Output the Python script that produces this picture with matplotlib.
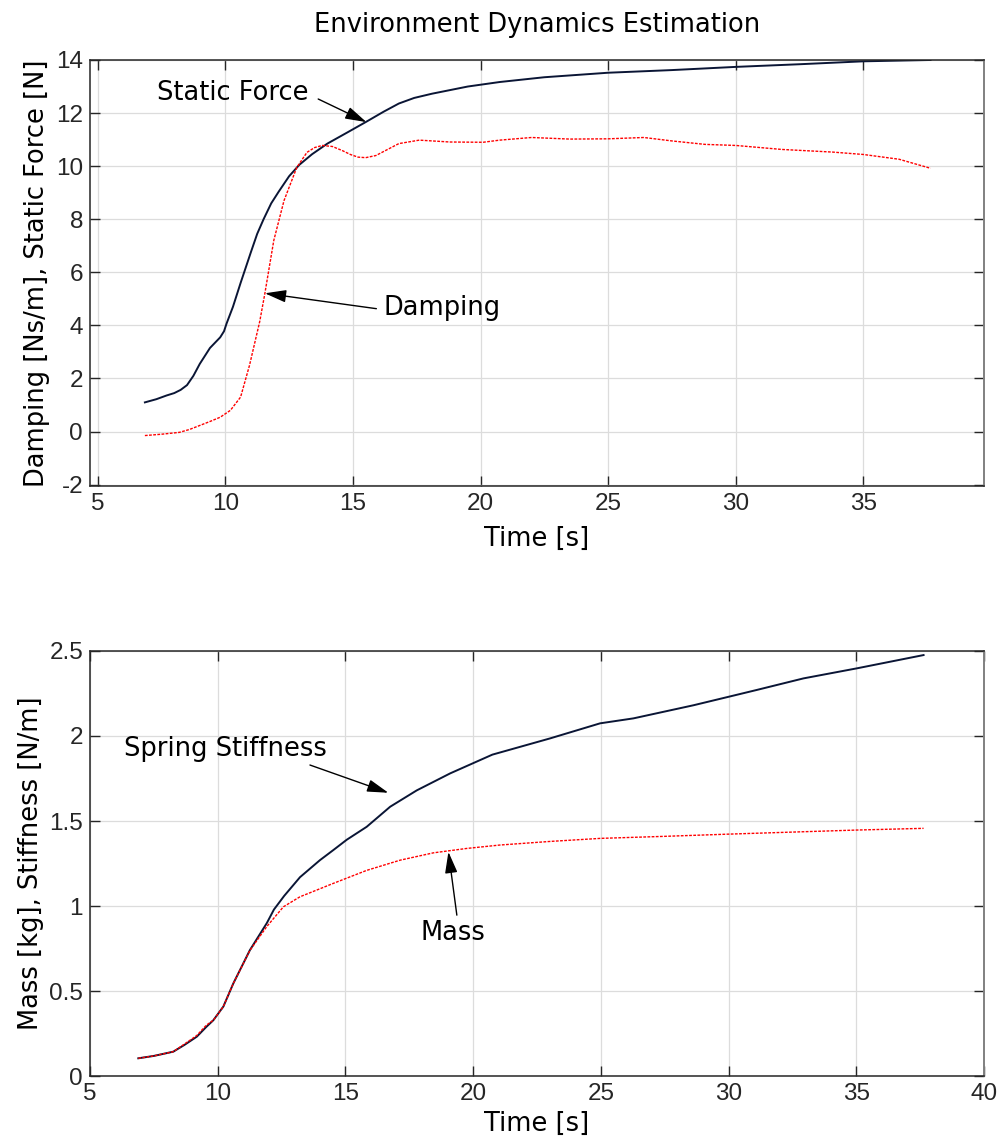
import numpy as np
import matplotlib.pyplot as plt

# ── data ────────────────────────────────────────────────
t_force = [6.85, 7.3, 7.7, 8.0, 8.25, 8.5, 8.75, 9.0, 9.4, 9.8, 9.95, 10.05, 10.3,
           10.6, 11.0, 11.25, 11.5, 11.8, 12.1, 12.5, 12.9, 13.4, 14.0, 14.8, 15.5,
           16.2, 16.8, 17.4, 18.1, 19.5, 20.75, 22.5, 25.0, 27.5, 30.0, 32.5, 35.0,
           37.63]
static_force = [1.10, 1.22, 1.36, 1.45, 1.57, 1.75, 2.1, 2.55, 3.15, 3.55, 3.78, 4.07,
                4.7, 5.6, 6.75, 7.45, 8.0, 8.6, 9.05, 9.62, 10.05, 10.45, 10.85, 11.28,
                11.66, 12.05, 12.36, 12.57, 12.73, 13.0, 13.17, 13.35, 13.52, 13.62,
                13.74, 13.84, 13.95, 14.0]

t_damp = [6.85, 7.5, 8.2, 8.6, 9.0, 9.4, 9.8, 10.2, 10.6, 10.95, 11.35, 11.55, 11.9,
          12.3, 12.8, 13.2, 13.5, 13.8, 14.2, 14.6, 14.9, 15.2, 15.5, 15.9, 16.2,
          16.8, 17.6, 18.8, 20.1, 20.75, 22.0, 23.5, 25.0, 26.4, 27.5, 28.8, 30.0,
          31.8, 33.8, 35.0, 36.4, 37.63]
damping = [-0.15, -0.1, -0.03, 0.08, 0.23, 0.38, 0.54, 0.8, 1.3, 2.5, 4.15, 5.2, 7.2,
           8.7, 9.95, 10.52, 10.7, 10.78, 10.74, 10.58, 10.44, 10.34, 10.32, 10.4,
           10.55, 10.85, 10.98, 10.91, 10.9, 10.98, 11.08, 11.02, 11.03, 11.08, 10.95,
           10.82, 10.78, 10.63, 10.53, 10.44, 10.26, 9.92]

t_stiff = [6.89, 7.5, 8.26, 8.7, 9.18, 9.55, 9.83, 10.22, 10.61, 11.26, 11.92, 12.2,
           12.6, 13.22, 14.0, 14.53, 15.05, 15.83, 16.75, 17.79, 19.1, 20.75, 23.0,
           24.97, 26.27, 28.62, 30.0, 31.1, 32.93, 35.02, 37.63]
stiffness = [0.106, 0.12, 0.145, 0.185, 0.233, 0.29, 0.33, 0.41, 0.546, 0.742, 0.9,
             0.98, 1.06, 1.17, 1.27, 1.33, 1.39, 1.466, 1.584, 1.68, 1.78, 1.89, 1.985,
             2.074, 2.103, 2.18, 2.23, 2.27, 2.338, 2.397, 2.475]

t_mass = [6.89, 7.5, 8.26, 8.7, 9.18, 9.55, 9.83, 10.22, 10.61, 11.26, 11.92, 12.57,
          13.22, 14.53, 15.83, 17.14, 18.44, 19.75, 21.05, 23.0, 24.97, 27.5, 30.0,
          32.5, 35.02, 37.63]
mass = [0.106, 0.12, 0.145, 0.19, 0.24, 0.3, 0.33, 0.41, 0.546, 0.74, 0.88, 0.996,
        1.055, 1.134, 1.21, 1.27, 1.313, 1.339, 1.359, 1.38, 1.398, 1.41, 1.423, 1.435,
        1.447, 1.457]

top_yticks = [-2, 0, 2, 4, 6, 8, 10, 12, 14]
top_xticks = [5, 10, 15, 20, 25, 30, 35]
bot_yticks = [0, 0.5, 1, 1.5, 2, 2.5]
bot_ytick_labels = ["0", "0.5", "1", "1.5", "2", "2.5"]
bot_xticks = [5, 10, 15, 20, 25, 30, 35, 40]

# ── style ───────────────────────────────────────────────
plt.rcParams["axes.unicode_minus"] = False
plt.rcParams["font.family"] = "DejaVu Sans"
NAVY = "#0a1535"
RED = "#ff0000"
TXT = 18.5
ANN = 18.5
TICK = 17.5


def style_axes(ax):
    ax.grid(True, color="#dcdcdc", linewidth=0.9)
    ax.set_axisbelow(True)
    ax.tick_params(direction="in", length=7, width=1, top=True, right=True,
                   colors="#262626", labelsize=TICK, pad=5)
    for lab in ax.get_xticklabels() + ax.get_yticklabels():
        lab.set_fontfamily("Liberation Sans")
    for side in ["left", "bottom", "top"]:
        ax.spines[side].set_color("#262626")
        ax.spines[side].set_linewidth(1.1)
    ax.spines["right"].set_color("#808080")
    ax.spines["right"].set_linewidth(1.4)


def arrow(ax, tail, tip):
    ax.annotate("", xy=tip, xytext=tail,
                arrowprops=dict(arrowstyle="-|>,head_length=1.3,head_width=0.38",
                                color="black", lw=1.0, shrinkA=0, shrinkB=0))


fig = plt.figure(figsize=(9.99, 11.47), dpi=100)
ax1 = fig.add_axes([0.0901, 0.5763, 0.895, 0.3714])
ax2 = fig.add_axes([0.0901, 0.0616, 0.895, 0.3710])

# top panel
ax1.plot(t_force, static_force, color=NAVY, lw=1.4)
ax1.plot(t_damp, damping, color=RED, lw=1.0, linestyle=(0, (2, 1)))
ax1.set_xlim(4.7, 39.73)
ax1.set_ylim(-2.05, 14)
ax1.set_xticks(top_xticks)
ax1.set_yticks(top_yticks)
style_axes(ax1)
ax1.set_title("Environment Dynamics Estimation", fontsize=TXT, pad=20)
ax1.set_xlabel("Time [s]", fontsize=TXT, labelpad=8)
ax1.set_ylabel("Damping [Ns/m], Static Force [N]", fontsize=TXT, labelpad=4)
ax1.text(10.3, 12.74, "Static Force", fontsize=ANN, ha="center", va="center")
arrow(ax1, (13.64, 12.53), (15.53, 11.66))
ax1.text(18.48, 4.64, "Damping", fontsize=ANN, ha="center", va="center")
arrow(ax1, (15.92, 4.63), (11.55, 5.21))

# bottom panel
ax2.plot(t_stiff, stiffness, color=NAVY, lw=1.4)
ax2.plot(t_mass, mass, color=RED, lw=1.0, linestyle=(0, (2, 1)))
ax2.set_xlim(5, 40)
ax2.set_ylim(0, 2.5)
ax2.set_xticks(bot_xticks)
ax2.set_yticks(bot_yticks)
ax2.set_yticklabels(bot_ytick_labels)
style_axes(ax2)
ax2.set_xlabel("Time [s]", fontsize=TXT, labelpad=4)
ax2.set_ylabel("Mass [kg], Stiffness [N/m]", fontsize=TXT, labelpad=4)
ax2.text(10.29, 1.923, "Spring Stiffness", fontsize=ANN, ha="center", va="center")
arrow(ax2, (13.61, 1.829), (16.68, 1.666))
ax2.text(19.21, 0.842, "Mass", fontsize=ANN, ha="center", va="center")
arrow(ax2, (19.36, 0.947), (19.03, 1.319))

fig.savefig("out.png", dpi=100)
